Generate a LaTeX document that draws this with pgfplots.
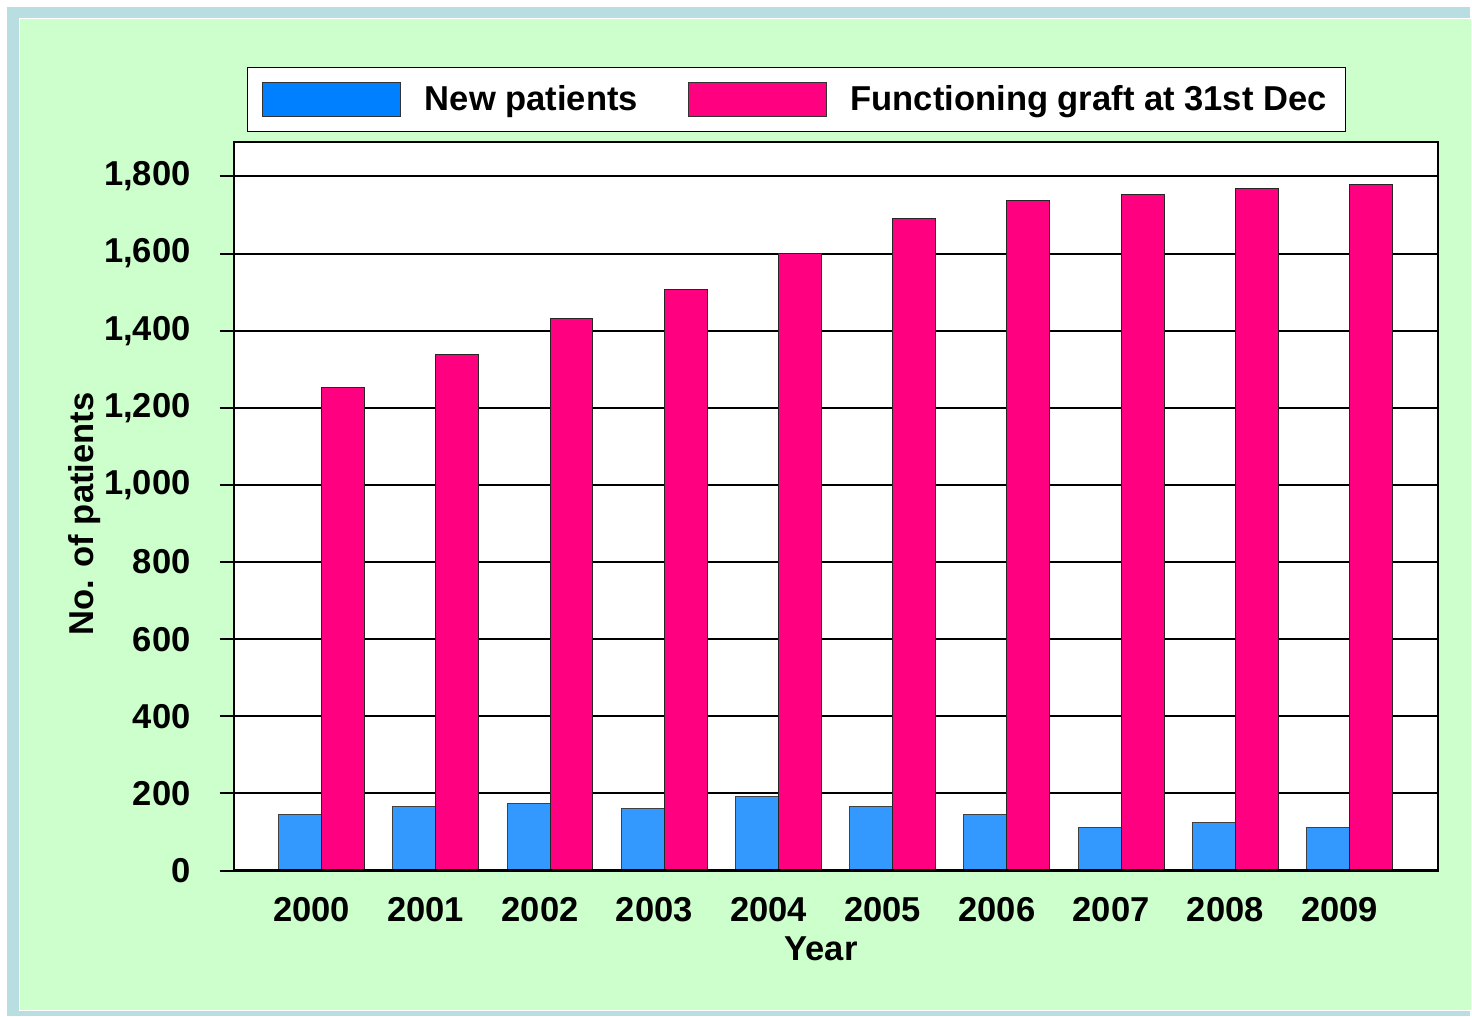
\documentclass[border=0pt]{standalone}
\usepackage{fontspec}
\setmainfont{Liberation Sans}
\usepackage{pgfplots}
\pgfplotsset{compat=1.18}
\definecolor{framecol}{RGB}{185,222,226}
\definecolor{bggreen}{RGB}{204,255,204}
\definecolor{barblue}{RGB}{51,153,255}
\definecolor{legblue}{RGB}{0,128,255}
\definecolor{barpink}{RGB}{255,0,128}
\newcommand{\chartfont}{\bfseries\fontsize{17.3}{20}\selectfont}
\begin{document}
\begin{tikzpicture}
% page and frame (1 px of the reference = 0.5pt)
\fill[white] (0pt,0pt) rectangle (736pt,509pt);
\fill[framecol] (3.5pt,0pt) rectangle (736pt,505.5pt);
\fill[bggreen, draw=white, line width=0.5pt] (10pt,3pt) rectangle (737pt,499.5pt);
\begin{axis}[
    at={(117pt,73pt)}, anchor=south west,
    scale only axis,
    width=603pt, height=365pt,
    ybar=0pt,
    bar width=21.5pt,
    xmin=-0.77, xmax=9.77,
    ymin=0, ymax=1890,
    xtick={0,...,9},
    xticklabels={2000,2001,2002,2003,2004,2005,2006,2007,2008,2009},
    xtick style={draw=none},
    ytick={0,200,...,1800},
    ytick pos=left,
    ytick style={black, line width=1pt},
    tick align=outside,
    major tick length=7pt,
    /pgf/number format/assume math mode=true,
    /pgf/number format/1000 sep={,},
    scaled y ticks=false,
    tick label style={font=\chartfont, black},
    xticklabel style={xshift=-5pt, yshift=-3pt},
    yticklabel style={xshift=-11pt},
    ymajorgrids=true,
    grid style={black, line width=1pt},
    axis background/.style={fill=white},
    axis line style={black, line width=1pt},
    xlabel={Year},
    ylabel={No. of patients},
    label style={font=\chartfont},
    xlabel style={at={(axis description cs:0.488,-0.108)}, anchor=center},
    ylabel style={at={(axis description cs:-0.1236,0.489)}, anchor=center},
    legend columns=2,
    legend style={
        at={(axis description cs:0.0108,1.1027)}, anchor=north west,
        draw=black, line width=0.6pt, fill=white,
        font=\chartfont,
        inner xsep=7.5pt, inner ysep=7pt,
        /tikz/every odd column/.append style={column sep=10pt},
        /tikz/every even column/.append style={column sep=23pt},
    },
]
\addplot[fill=barblue, draw=black!75, line width=0.5pt,
    legend image code/.code={\draw[fill=legblue, draw=black!80, line width=0.5pt] (0pt,-8.5pt) rectangle (69pt,8.5pt);}]
    coordinates {(0,145) (1,166) (2,174) (3,161) (4,192) (5,166) (6,145) (7,111) (8,124) (9,111)};
\addplot[fill=barpink, draw=black!85, line width=0.5pt,
    legend image code/.code={\draw[fill=barpink, draw=black!80, line width=0.5pt] (0pt,-8.5pt) rectangle (69pt,8.5pt);}]
    coordinates {(0,1253) (1,1339) (2,1432) (3,1507) (4,1600) (5,1691) (6,1738) (7,1753) (8,1769) (9,1779)};
\legend{New patients, Functioning graft at 31st Dec}
\end{axis}
\draw[black, line width=1.5pt] (117pt,73pt) -- (720pt,73pt);
\end{tikzpicture}
\end{document}
